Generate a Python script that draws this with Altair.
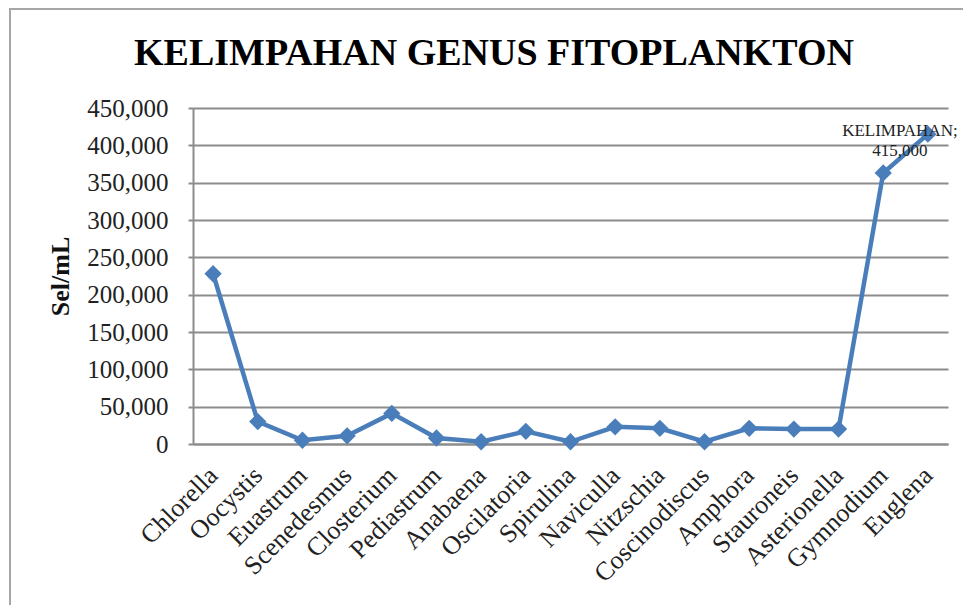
import altair as alt
import pandas as pd

genus = ["Chlorella", "Oocystis", "Euastrum", "Scenedesmus", "Closterium",
         "Pediastrum", "Anabaena", "Oscilatoria", "Spirulina", "Naviculla",
         "Nitzschia", "Coscinodiscus", "Amphora", "Stauroneis", "Asterionella",
         "Gymnodium", "Euglena"]
kelimpahan = [228000, 30000, 5000, 11000, 41000,
              8000, 3000, 17000, 3000, 23000,
              21000, 3000, 21000, 20000, 20000,
              363000, 415000]
y_ticks = [0, 50000, 100000, 150000, 200000, 250000, 300000, 350000, 400000, 450000]
label_genus = ["Euglena"]
label_text = ["KELIMPAHAN;\n415,000"]
label_value = [415000]
chart_title = ["KELIMPAHAN GENUS FITOPLANKTON"]

FONT = "Liberation Serif"
BLUE = "#4a7ebb"
GRID = "#8c8c8c"
W, H = 755, 336

df = pd.DataFrame({"Genus": genus, "Kelimpahan": kelimpahan})
df_lab = pd.DataFrame({"Genus": label_genus, "Kelimpahan": label_value, "Teks": label_text})
df_title = pd.DataFrame({"Judul": chart_title})

x_enc = alt.X("Genus:N", sort=genus, title=None,
              scale=alt.Scale(type="point", padding=0.45),
              axis=alt.Axis(labelAngle=-45, labelAlign="right", labelBaseline="middle",
                            labelFont=FONT, labelFontSize=26, labelColor="#222222",
                            labelPadding=27, ticks=False, domainColor=GRID,
                            domainWidth=2, grid=False, labelOverlap=False))
y_enc = alt.Y("Kelimpahan:Q", title="Sel/mL",
              scale=alt.Scale(domain=[0, 450000], nice=False),
              axis=alt.Axis(values=y_ticks, tickCount=10, format=",.0f", labelOverlap=False,
                            labelFont=FONT, labelFontSize=25,
                            labelColor="#222222", labelPadding=20, tickSize=5,
                            tickColor=GRID, tickWidth=2, domainColor=GRID, domainWidth=2,
                            gridColor=GRID, gridWidth=2, titleFont=FONT,
                            titleFontSize=26, titleFontWeight="bold", titleColor="#111111",
                            titleAngle=-90, titleX=-133, titleY=H / 2,
                            titleAlign="center", titleBaseline="middle"))

base = alt.Chart(df).encode(x=x_enc, y=y_enc)
line = base.mark_line(color=BLUE, strokeWidth=4.5)
points = base.mark_point(shape="diamond", filled=True, size=300, color=BLUE, opacity=1)

label = alt.Chart(df_lab).mark_text(font=FONT, fontSize=17, color="#222222",
                                    align="center", baseline="middle",
                                    lineBreak="\n", dx=-28, dy=-3, lineHeight=20).encode(
    x=x_enc, y=y_enc, text="Teks:N")

title = alt.Chart(df_title).mark_text(font=FONT, fontSize=38, fontWeight="bold",
                                      color="#000000", align="center",
                                      baseline="alphabetic").encode(
    x=alt.value(301), y=alt.value(-43), text="Judul:N")

frame = alt.Chart(pd.DataFrame({"a": [0]})).mark_rect(
    fill="transparent", stroke="#a6a6a6", strokeWidth=2).encode(
    x=alt.value(-183), x2=alt.value(W + 60), y=alt.value(-99), y2=alt.value(H + 200))

chart = alt.layer(frame, line, points, label, title).properties(
    width=W, height=H,
    autosize=alt.AutoSizeParams(type="none"),
    padding={"left": 185, "top": 100, "right": 15, "bottom": 161},
).configure_view(strokeWidth=0)

chart.save("out.html", embed_options={"renderer": "svg", "actions": False})
